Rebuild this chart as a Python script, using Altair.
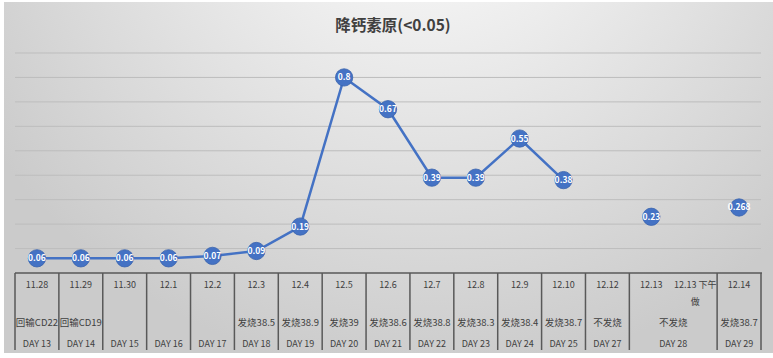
import altair as alt
import pandas as pd

# ---- data ----
dates = ["11.28", "11.29", "11.30", "12.1", "12.2", "12.3", "12.4", "12.5", "12.6",
         "12.7", "12.8", "12.9", "12.10", "12.12", "12.13", "12.13 下午\n做", "12.14"]
values = [0.06, 0.06, 0.06, 0.06, 0.07, 0.09, 0.19, 0.8, 0.67,
          0.39, 0.39, 0.55, 0.38, None, 0.23, None, 0.268]

note_text = ["回输CD22", "回输CD19", "发烧38.5", "发烧38.9", "发烧39", "发烧38.6", "发烧38.8",
             "发烧38.3", "发烧38.4", "发烧38.7", "不发烧", "不发烧", "发烧38.7"]
note_start = [0, 1, 5, 6, 7, 8, 9, 10, 11, 12, 13, 14, 16]
note_end = [1, 2, 6, 7, 8, 9, 10, 11, 12, 13, 14, 16, 17]

day_text = ["DAY 13", "DAY 14", "DAY 15", "DAY 16", "DAY 17", "DAY 18", "DAY 19", "DAY 20",
            "DAY 21", "DAY 22", "DAY 23", "DAY 24", "DAY 25", "DAY 27", "DAY 28", "DAY 29"]
day_start = [0, 1, 2, 3, 4, 5, 6, 7, 8, 9, 10, 11, 12, 13, 14, 16]
day_end = [1, 2, 3, 4, 5, 6, 7, 8, 9, 10, 11, 12, 13, 14, 16, 17]

y_grid = [0.1, 0.2, 0.3, 0.4, 0.5, 0.6, 0.7, 0.8, 0.9]
title_text = "降钙素原(<0.05)"

# ---- tables ----
n = len(dates)
seg, s = [], 0
for v in values:
    if v is None:
        s += 1
    seg.append(s)
df = pd.DataFrame({
    "i": [k + 0.5 for k in range(n)],
    "date": dates,
    "v": values,
    "label": ["" if v is None else str(v) for v in values],
    "seg": seg,
})
pts = df.dropna(subset=["v"])
notes = pd.DataFrame({"t": note_text, "c": [(a + b) / 2 for a, b in zip(note_start, note_end)]})
days = pd.DataFrame({"t": day_text, "c": [(a + b) / 2 for a, b in zip(day_start, day_end)]})
bounds = pd.DataFrame({"b": sorted(set(day_start + day_end))})
grid = pd.DataFrame({"g": y_grid})

W, H = 746, 220
BLUE = "#4472C4"
TXT = "#404040"
AXC = "#595959"
FONT = "Noto Sans CJK SC"

xscale = alt.Scale(domain=[0, n], nice=False, zero=False)
yscale = alt.Scale(domain=[0, 0.9], nice=False)


def X(field):
    return alt.X(field, scale=xscale, axis=None)


def Y(field):
    return alt.Y(field, scale=yscale, axis=None)


one = pd.DataFrame({"d": [0]})

bg = alt.Chart(one).mark_rect(
    fill=alt.RadialGradient(
        gradient="radial",
        x1=0.55, y1=0.08, r1=0.0,
        x2=0.55, y2=0.08, r2=0.68,
        stops=[alt.GradientStop(color="#ffffff", offset=0),
               alt.GradientStop(color="#f0f0f0", offset=0.3),
               alt.GradientStop(color="#cbcbcb", offset=1)],
    )
).encode(x=alt.value(-11), x2=alt.value(W + 12), y=alt.value(-51), y2=alt.value(H + 80))

grid_lines = alt.Chart(grid).mark_rule(color="#bdbdbd", strokeWidth=1).encode(
    y=Y("g:Q"), x=alt.value(0), x2=alt.value(W))

axis_line = alt.Chart(one).mark_rule(color=AXC, strokeWidth=1.5).encode(
    y=alt.value(H), x=alt.value(0), x2=alt.value(W + 1))

ticks = alt.Chart(bounds).mark_rule(color=AXC, strokeWidth=1.5).encode(
    x=X("b:Q"), y=alt.value(H), y2=alt.value(H + 77))

line = alt.Chart(pts).mark_line(color=BLUE, strokeWidth=2.5).encode(
    x=X("i:Q"), y=Y("v:Q"), detail="seg:N")

dots = alt.Chart(pts).mark_point(filled=True, size=300, color=BLUE, opacity=1,
                                 stroke="#3a63ad", strokeWidth=0.8).encode(
    x=X("i:Q"), y=Y("v:Q"))

dot_lbl = alt.Chart(pts).mark_text(color="white", fontSize=8.5, fontWeight="bold",
                                   font=FONT, baseline="middle").encode(
    x=X("i:Q"), y=Y("v:Q"), text="label:N")

date_lbl = alt.Chart(df).mark_text(color=TXT, fontSize=9, font=FONT, baseline="middle",
                                   lineBreak="\n", lineHeight=17).encode(
    x=X("i:Q"), y=alt.value(H + 12), text="date:N")

note_lbl = alt.Chart(notes).mark_text(color=TXT, fontSize=9.5, font=FONT, baseline="middle").encode(
    x=X("c:Q"), y=alt.value(H + 50), text="t:N")

day_lbl = alt.Chart(days).mark_text(color=TXT, fontSize=9, font=FONT, baseline="middle").encode(
    x=X("c:Q"), y=alt.value(H + 71), text="t:N")

chart = alt.layer(bg, grid_lines, axis_line, ticks, line, dots, dot_lbl,
                  date_lbl, note_lbl, day_lbl).properties(
    width=W, height=H,
    title=alt.Title(text=title_text, fontSize=15.5, font=FONT, fontWeight="bold",
                    color=TXT, anchor="middle", offset=-47, baseline="bottom", dx=5),
    autosize=alt.AutoSizeParams(type="none"),
    padding={"left": 15, "top": 53, "right": 12, "bottom": 85},
).configure_view(stroke=None)

chart.save("out.html", embed_options={"renderer": "svg", "actions": False})
